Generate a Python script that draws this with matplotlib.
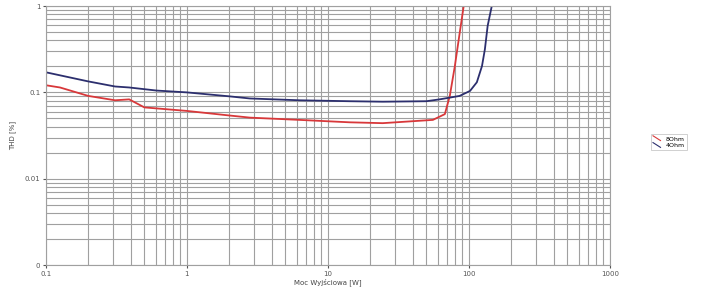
import numpy as np
import matplotlib
matplotlib.use("Agg")
import matplotlib.pyplot as plt
from matplotlib.legend_handler import HandlerLine2D

# moc [W] i THD [%]
moc_4 = [0.1, 0.2, 0.31, 0.39, 0.61, 1.0, 2.0, 2.8, 6.3, 14.3, 24.5, 50, 62, 86, 102, 114, 124, 130, 136, 146]
thd_4 = [0.171, 0.134, 0.117, 0.114, 0.105, 0.100, 0.090, 0.085, 0.081, 0.079, 0.078, 0.079, 0.083, 0.091, 0.104, 0.131, 0.202, 0.316, 0.59, 1.03]

moc_8 = [0.1, 0.126, 0.2, 0.31, 0.39, 0.5, 1.0, 2.0, 2.8, 6.3, 14.3, 24.5, 55.6, 67.6, 73.3, 79.6, 86.3, 92.2]
thd_8 = [0.121, 0.114, 0.091, 0.081, 0.083, 0.067, 0.061, 0.054, 0.051, 0.048, 0.045, 0.044, 0.048, 0.056, 0.091, 0.202, 0.498, 1.03]

xticks = [0.1, 1, 10, 100, 1000]
xlabels = ["0.1", "1", "10", "100", "1000"]
yticks = [0.001, 0.01, 0.1, 1]
ylabels = ["0", "0.01", "0.1", "1"]


class UkosnaLinia(HandlerLine2D):
    # ukosna kreska w legendzie jak w Excelu
    def create_artists(self, legend, orig, xd, yd, w, h, fs, trans):
        ln = plt.Line2D([0, w], [h, 0], color=orig.get_color(), lw=0.8)
        ln.set_transform(trans)
        return [ln]


fig = plt.figure(figsize=(7.05, 2.89), dpi=100)
ax = fig.add_axes([0.065, 0.083, 0.8, 0.896])

ax.plot(moc_8, thd_8, color="#d8383a", lw=1.3, label="8Ohm")
ax.plot(moc_4, thd_4, color="#2c2f6e", lw=1.3, label="4Ohm")

ax.set_xscale("log")
ax.set_yscale("log")
ax.set_xlim(0.1, 1000)
ax.set_ylim(0.001, 1)

ax.set_xticks(xticks)
ax.set_xticklabels(xlabels)
ax.set_yticks(yticks)
ax.set_yticklabels(ylabels)
ax.tick_params(which="both", length=2, labelsize=5, colors="#555555", pad=2)
ax.tick_params(which="minor", length=0)

ax.grid(True, which="both", color="#a0a0a0", lw=0.8)
for s in ax.spines.values():
    s.set_color("#a0a0a0")
    s.set_linewidth(0.8)

ax.set_xlabel("Moc Wyjściowa [W]", fontsize=5, color="#444444", labelpad=1)
ax.set_ylabel("THD [%]", fontsize=5, color="#444444", labelpad=6)

leg = fig.legend(loc="upper left", bbox_to_anchor=(648 / 705, 1 - 131 / 289),
                 fontsize=4.5, frameon=True, fancybox=False, handlelength=1.2,
                 handleheight=0.8, borderpad=0.3, labelspacing=0.2,
                 handler_map={plt.Line2D: UkosnaLinia()})
leg.get_frame().set_edgecolor("#bbbbbb")
leg.get_frame().set_linewidth(0.6)

fig.savefig("out.png", dpi=100)
